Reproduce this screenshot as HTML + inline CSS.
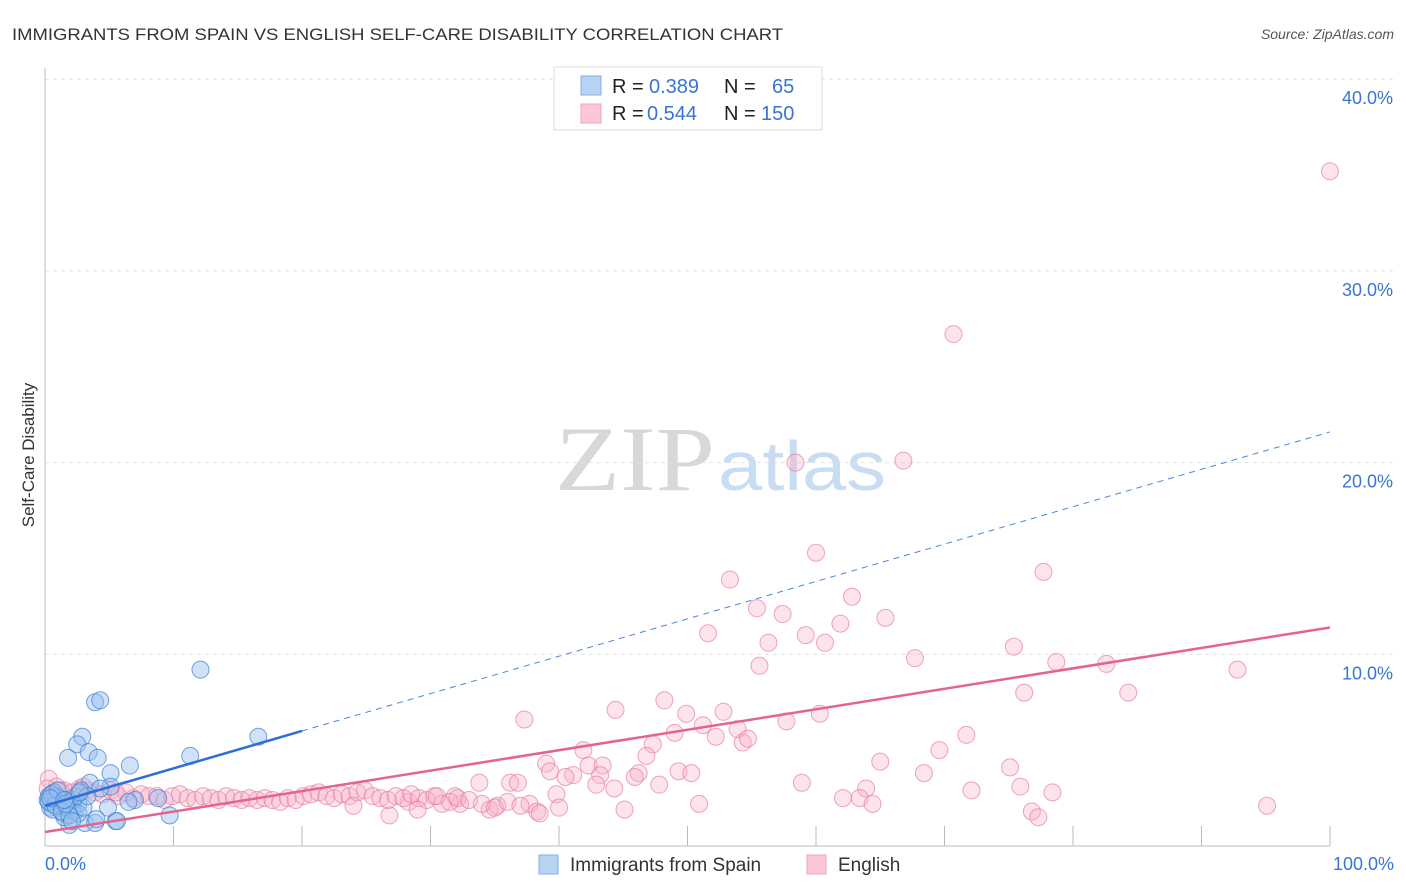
<!DOCTYPE html>
<html><head><meta charset="utf-8"><style>
html,body{margin:0;padding:0;background:#fff;}
svg{display:block;font-family:"Liberation Sans",sans-serif;}
</style></head><body>
<svg id="chart" width="1406" height="892" viewBox="0 0 1406 892">
<text x="12" y="40" font-size="17" fill="#333" textLength="771" lengthAdjust="spacingAndGlyphs">IMMIGRANTS FROM SPAIN VS ENGLISH SELF-CARE DISABILITY CORRELATION CHART</text>
<text x="1394" y="39" font-size="14" fill="#555" font-style="italic" text-anchor="end">Source: ZipAtlas.com</text>
<g>
<text x="555" y="490" font-size="92" fill="#d8d8d8" font-family="Liberation Serif,serif" textLength="160" lengthAdjust="spacingAndGlyphs">ZIP</text>
<text x="718" y="490" font-size="70" fill="#c8dcf2" textLength="168" lengthAdjust="spacingAndGlyphs">atlas</text>
</g>
<text transform="translate(34,455) rotate(-90)" font-size="17" fill="#333" text-anchor="middle">Self-Care Disability</text>
<g id="grid"></g>
<g id="axes"></g>
<g id="pts"></g>
<g id="lines"></g>
<g>
<rect x="554" y="67" width="268" height="63" fill="#fff" stroke="#ddd"/>
<rect x="581" y="76" width="20" height="19" fill="#b8d2f4" stroke="#86aee6"/>
<rect x="581" y="104" width="20" height="19" fill="#fcc8d8" stroke="#eea4bc"/>
<text y="93" font-size="20" fill="#222"><tspan x="612">R =</tspan><tspan x="649" fill="#3b74d1">0.389</tspan><tspan x="724">N =</tspan><tspan x="772" fill="#3b74d1">65</tspan></text>
<text y="120" font-size="20" fill="#222"><tspan x="612">R =</tspan><tspan x="647" fill="#3b74d1">0.544</tspan><tspan x="724">N =</tspan><tspan x="761" fill="#3b74d1">150</tspan></text>
</g>
<g>
<rect x="539" y="855" width="19" height="19" fill="#b8d2f4" stroke="#86aee6"/>
<text x="570" y="871" font-size="19" fill="#333">Immigrants from Spain</text>
<rect x="807" y="855" width="19" height="19" fill="#fcc8d8" stroke="#eea4bc"/>
<text x="838" y="871" font-size="19" fill="#333">English</text>
</g>
</svg>
<script>
const yTicks=[10,20,30,40];
const yTickLabels=["10.0%","20.0%","30.0%","40.0%"];
const xTicks=[10,20,30,40,50,60,70,80,90,100];
const blueX=[1.8,2.9,2.5,3.4,4.1,3.9,4.3,12.1,11.3,16.6,6.6,5.1,3.5,5.1,4.3,7.0,9.7,5.5,5.6,4.9,1.9,3.1,3.9,1.2,0.3,0.5,0.8,1.0,1.3,1.6,2.0,2.3,2.6,0.4,0.7,1.1,1.4,1.7,2.1,0.2,0.6,0.9,1.2,1.5,1.8,2.2,2.6,3.0,0.3,0.8,1.3,1.9,2.4,0.5,1.0,1.6,2.1,2.8,3.3,4.0,0.4,1.5,6.5,8.8,2.7];
const blueY=[4.6,5.7,5.3,4.9,4.6,7.5,7.6,9.2,4.7,5.7,4.2,3.8,3.3,3.1,3.0,2.4,1.6,1.3,1.3,2.0,1.1,1.2,1.2,2.1,2.6,2.2,2.5,2.3,2.0,2.4,2.1,1.8,2.2,2.0,2.8,2.5,1.7,2.3,1.9,2.4,1.9,2.6,2.2,1.5,2.0,2.4,1.7,2.0,2.3,2.1,1.8,1.6,2.6,2.7,2.9,2.2,1.3,2.9,2.6,1.4,2.5,2.4,2.3,2.5,2.8];
const pinkX=[100,70.7,58.4,66.8,60,53.3,77.7,62.8,55.4,57.4,65.4,61.9,51.6,59.2,56.3,60.7,75.4,55.6,67.7,78.7,82.6,92.8,76.2,84.3,48.2,44.4,49.9,52.8,60.3,37.3,51.2,57.7,53.9,49,52.2,71.7,54.3,54.7,47.3,41.9,69.6,46.8,65,39,42.3,43.4,39.3,41.1,43.2,40.5,46.2,45.9,49.3,50.3,75.1,68.4,33.8,36.2,36.8,42.9,44.3,47.8,58.9,63.9,72.1,78.4,75.9,62.1,63.4,64.4,50.9,39.8,45.1,95.1,76.8,77.3,34.6,37.7,38.3,26.8,35.2,32.3,31.9,28.3,
0.3,0.9,1.5,2.1,2.7,3.3,3.9,4.5,5.1,5.7,6.3,6.9,7.5,8.1,8.7,9.3,9.9,10.5,11.1,11.7,12.3,12.9,13.5,14.1,14.7,15.3,15.9,16.5,17.1,17.7,18.3,18.9,19.5,20.1,20.7,21.3,21.9,22.5,23.1,23.7,24.3,24.9,25.5,26.1,26.7,27.3,27.9,28.5,29.1,29.7,30.3,30.9,31.5,32.1,33.0,34.0,35.0,36.0,37.0,38.5,40.0,0.2,1.2,3.0,5.5,24.0,29.0,30.5];
const pinkY=[35.2,26.7,20.0,20.1,15.3,13.9,14.3,13.0,12.4,12.1,11.9,11.6,11.1,11.0,10.6,10.6,10.4,9.4,9.8,9.6,9.5,9.2,8.0,8.0,7.6,7.1,6.9,7.0,6.9,6.6,6.3,6.5,6.1,5.9,5.7,5.8,5.4,5.6,5.3,5.0,5.0,4.7,4.4,4.3,4.2,4.2,3.9,3.7,3.7,3.6,3.8,3.6,3.9,3.8,4.1,3.8,3.3,3.3,3.3,3.2,3.0,3.2,3.3,3.0,2.9,2.8,3.1,2.5,2.5,2.2,2.2,2.7,1.9,2.1,1.8,1.5,1.9,2.2,1.8,1.6,2.1,2.2,2.6,2.3,
3.5,3.1,2.9,2.8,3.0,2.9,2.8,2.7,2.9,2.6,2.8,2.5,2.7,2.6,2.6,2.4,2.6,2.7,2.5,2.4,2.6,2.5,2.4,2.6,2.5,2.4,2.5,2.4,2.5,2.4,2.3,2.5,2.4,2.6,2.7,2.8,2.6,2.5,2.7,2.6,2.8,2.9,2.6,2.5,2.4,2.6,2.5,2.7,2.5,2.4,2.6,2.2,2.3,2.5,2.4,2.2,2.0,2.3,2.1,1.7,2.0,3.0,2.9,3.1,2.8,2.1,1.9,2.6];
const blueTrend=[2.1,6.0];
const blueTrendExt=21.6;
const pinkTrend=[0.73,11.4];
const X0=45,X1=1330,Y0=846,YP=19.17;
const sx=v=>X0+(X1-X0)*v/100, sy=v=>Y0-YP*v;
const NS="http://www.w3.org/2000/svg";
function mk(tag,attrs,parent){const e=document.createElementNS(NS,tag);for(const k in attrs)e.setAttribute(k,attrs[k]);parent.appendChild(e);return e;}
const grid=document.getElementById('grid'),axes=document.getElementById('axes'),pts=document.getElementById('pts'),lines=document.getElementById('lines');
yTicks.forEach((t,i)=>{
 const l=mk('line',{x1:X0,x2:1394,y1:sy(t),y2:sy(t),stroke:'#e2e2e2','stroke-dasharray':'4,4'},grid);
 
 
 const tx=mk('text',{x:1393,y:sy(t)+25,'font-size':18,fill:'#3b74d1','text-anchor':'end'},axes);
 tx.textContent=yTickLabels[i];
 
 
});
const la=mk('line',{x1:X0,x2:X0,y1:68,y2:Y0,stroke:'#bbb'},axes);


const ba=mk('line',{x1:X0,x2:X1,y1:Y0,y2:Y0,stroke:'#bbb'},axes);


xTicks.forEach(t=>{
 const l=mk('line',{x1:sx(t),x2:sx(t),y1:Y0-20,y2:Y0,stroke:'#bbb'},axes);
 
 
});
const xl0=mk('text',{x:45,y:870,'font-size':18,fill:'#3b74d1'},axes);xl0.textContent='0.0%';


const xl1=mk('text',{x:1394,y:870,'font-size':18,fill:'#3b74d1','text-anchor':'end'},axes);xl1.textContent='100.0%';


pinkX.forEach((x,i)=>{
 const c=mk('circle',{cx:sx(x),cy:sy(pinkY[i]),r:8.5,fill:'rgba(248,175,198,0.35)',stroke:'rgba(228,120,158,0.65)','stroke-width':1},pts);
 
 
});
blueX.forEach((x,i)=>{
 const c=mk('circle',{cx:sx(x),cy:sy(blueY[i]),r:8.5,fill:'rgba(150,190,240,0.45)',stroke:'rgba(60,125,210,0.7)','stroke-width':1},pts);
 
 
});
const bt=mk('line',{x1:sx(0),y1:sy(blueTrend[0]),x2:sx(20),y2:sy(blueTrend[1]),stroke:'#2c6fd6','stroke-width':2.5},lines);


const be=mk('line',{x1:sx(20),y1:sy(blueTrend[1]),x2:sx(100),y2:sy(blueTrendExt),stroke:'#4a86d8','stroke-width':1,'stroke-dasharray':'6,5'},lines);


const pt=mk('line',{x1:sx(0),y1:sy(pinkTrend[0]),x2:sx(100),y2:sy(pinkTrend[1]),stroke:'#e4648e','stroke-width':2.5},lines);


</script>
</body></html>
